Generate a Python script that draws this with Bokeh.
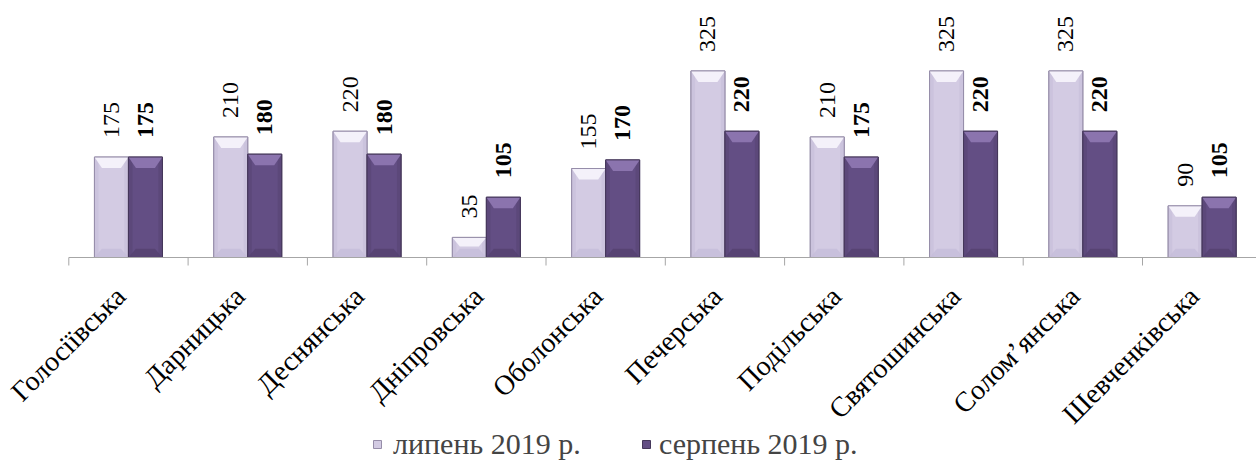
import math
from bokeh.plotting import figure
from bokeh.models import Range1d, Legend, LegendItem
from bokeh.core.properties import value
from bokeh.embed import file_html
from bokeh.resources import INLINE

categories = ["Голосіївська", "Дарницька", "Деснянська", "Дніпровська", "Оболонська",
              "Печерська", "Подільська", "Святошинська", "Солом’янська", "Шевченківська"]
july = [175, 210, 220, 35, 155, 325, 210, 325, 325, 90]
august = [175, 180, 180, 105, 170, 220, 175, 220, 220, 105]
series_names = ["липень 2019 р.", "серпень 2019 р."]

FONT = "Liberation Serif"
W, H = 1256, 462
CAT_PX = 119.3        # pixels per category
AXIS_LEFT_PX = 68.3   # where the category axis starts
AXIS_Y_PX = 257       # pixel row of the category axis
PX_PER_UNIT = 0.574
BW = 0.285            # bar width in category units
BEVEL_PX = 11

n = len(categories)
centers = [i + 0.5 for i in range(n)]
x_light = [c - BW / 2 for c in centers]
x_dark = [c + BW / 2 for c in centers]

x0 = -AXIS_LEFT_PX / CAT_PX
x1 = (W - AXIS_LEFT_PX) / CAT_PX
y0 = -(H - AXIS_Y_PX) / PX_PER_UNIT
y1 = AXIS_Y_PX / PX_PER_UNIT

p = figure(frame_width=W, frame_height=H,
           x_range=Range1d(x0, x1), y_range=Range1d(y0, y1),
           output_backend="svg", toolbar_location=None,
           min_border=0, x_axis_location=None, y_axis_location=None,
           outline_line_color=None)
p.grid.visible = False
p.background_fill_color = "white"
p.border_fill_color = "white"

h_units = BEVEL_PX / PX_PER_UNIT


def bevel(xc, vals, h, top=True):
    xs, ys = [], []
    for x, v in zip(xc, vals):
        l, r = x - BW / 2, x + BW / 2
        d = BW * 0.22
        hh = min(h, v * 0.45)
        xs.append([l, r, r - d, l + d])
        if top:
            ys.append([v, v, v - hh, v - hh])
        else:
            ys.append([0, 0, hh, hh])
    return xs, ys


styles = [
    (x_light, july, "#D3CBE3", "#968DA9", "#F4F1FA", "#C6BDD9", "#C9C0DB"),
    (x_dark, august, "#634E84", "#45375A", "#8B74AE", "#54416F", "#5A4778"),
]
renderers = []
for xc, vals, fill, line, topc, botc, sidec in styles:
    r = p.vbar(x=xc, top=vals, bottom=0, width=BW, fill_color=fill,
               line_color=line, line_width=1)
    renderers.append(r)
    p.vbar(x=[x - BW / 2 + BW * 0.06 for x in xc], top=vals, bottom=0, width=BW * 0.12,
           fill_color=sidec, line_color=None, fill_alpha=0.8)
    p.vbar(x=[x + BW / 2 - BW * 0.06 for x in xc], top=vals, bottom=0, width=BW * 0.12,
           fill_color=sidec, line_color=None, fill_alpha=0.8)
    txs, tys = bevel(xc, vals, h_units, top=True)
    p.patches(txs, tys, fill_color=topc, line_color=None)
    bxs, bys = bevel(xc, vals, h_units * 0.8, top=False)
    p.patches(bxs, bys, fill_color=botc, line_color=None, fill_alpha=0.8)
    p.vbar(x=xc, top=vals, bottom=0, width=BW, fill_color=None,
           line_color=line, line_width=1)

# category axis: line + boundary ticks
tick_len = 8 / PX_PER_UNIT
p.segment(x0=[0], y0=[0], x1=[n], y1=[0], line_color="#A6A6A6", line_width=1)
p.segment(x0=list(range(n + 1)), y0=[0] * (n + 1), x1=list(range(n + 1)),
          y1=[-tick_len] * (n + 1), line_color="#A6A6A6", line_width=1)

# category labels (rotated 45°)
p.text(x=centers, y=[0] * n, text=categories, angle=math.pi / 4,
       text_align="right", text_baseline="middle", x_offset=-8, y_offset=34,
       text_font=value(FONT), text_font_size="28px", text_color="black")

# value labels
p.text(x=x_light, y=july, text=[str(v) for v in july], angle=math.pi / 2,
       text_align="left", text_baseline="middle", y_offset=-19,
       text_font=value(FONT), text_font_size="24px", text_color="black")
p.text(x=x_dark, y=august, text=[str(v) for v in august], angle=math.pi / 2,
       text_align="left", text_baseline="middle", y_offset=-19,
       text_font=value(FONT), text_font_size="24px", text_font_style="bold",
       text_color="black")

legend_positions = [(372, 1), (641, 1)]
legend_standoffs = [11, 8]
for r, name, loc, so in zip(renderers, series_names, legend_positions, legend_standoffs):
    lg = Legend(items=[LegendItem(label=name, renderers=[r])],
                orientation="horizontal", location=loc,
                label_text_font=FONT, label_text_font_size="30px",
                glyph_width=10, glyph_height=10, label_standoff=so,
                padding=0, margin=0, border_line_color=None, background_fill_alpha=0)
    p.add_layout(lg)

open("out.html", "w").write(file_html(p, INLINE))
